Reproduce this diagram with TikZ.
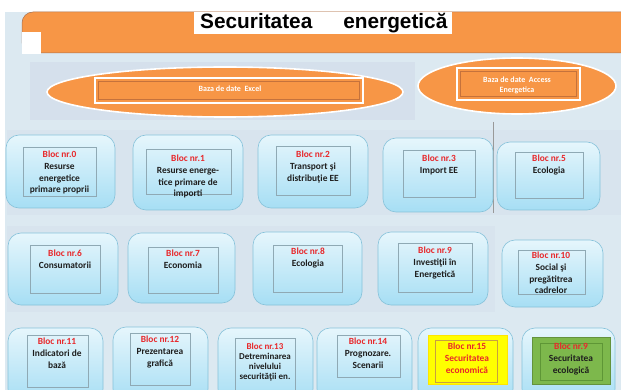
\documentclass[tikz,border=0pt]{standalone}
\usepackage{fontspec}
\setmainfont{Carlito}
\newfontfamily\titlefont{Liberation Sans}
\usetikzlibrary{shapes.geometric}
\definecolor{bgblue}{HTML}{DCE9F1}
\definecolor{bandc}{HTML}{D5E0EC}
\definecolor{orng}{HTML}{F79646}
\definecolor{orline}{HTML}{B8693A}
\definecolor{btop}{HTML}{E6F6FC}
\definecolor{bbot}{HTML}{A6DEF4}
\definecolor{bdraw}{HTML}{86C2DA}
\definecolor{idraw}{HTML}{8FA9B4}
\definecolor{blocred}{HTML}{E8282B}
\definecolor{tdark}{HTML}{1E1E1E}
\definecolor{yel}{HTML}{FFFF00}
\definecolor{yline}{HTML}{C8A040}
\definecolor{grn}{HTML}{7DB84C}
\definecolor{gline}{HTML}{5E9636}
\newcommand\bn[1]{\textcolor{blocred}{#1}\\[1pt]}
\newcommand\blk[9]{%
  \node[outerbox, minimum width={#4-#2}, minimum height={#5-#3}] (#1) at ({(#2+#4)/2},{(#3+#5)/2}) {};
  \node[innerbox, minimum width={#8-#6}, minimum height={#9-#7}] (#1i) at ({(#6+#8)/2},{(#7+#9)/2}) {};
}
\begin{document}
\begin{tikzpicture}[x=1pt,y=-1pt,
  outerbox/.style={rounded corners=13pt, draw=bdraw, line width=0.6pt, top color=btop, bottom color=bbot, inner sep=0pt},
  innerbox/.style={draw=idraw, line width=0.5pt, inner sep=0pt},
  btext/.style={font=\fontsize{9.4}{11.4}\selectfont\bfseries, align=center, inner sep=0pt, anchor=north, text=tdark},
  oval/.style={ellipse, fill=orng, draw=white, line width=1.6pt, inner sep=0pt},
  wframe/.style={draw=white, line width=2.2pt, inner sep=0pt},
  oframe/.style={draw=orline!80!orng, line width=0.5pt, inner sep=0pt},
  dbtext/.style={font=\fontsize{8}{10.5}\selectfont\bfseries, text=white, align=center, inner sep=0pt}]
\useasboundingbox (0,0) rectangle (621,390);
\clip (0,0) rectangle (621,390);
% background
\fill[white] (0,0) rectangle (621,390);
\fill[bgblue] (5,12) rectangle (621,390);
\fill[bandc] (30,62) rectangle (415,120);
\fill[bandc!60!bgblue] (7,130) rectangle (621,215);
\fill[bandc!60!bgblue] (7,226) rectangle (495,312);
% banner
\fill[orng, draw=orline!70!gray, line width=0.5pt, rounded corners=11pt] (22,12) rectangle (640,53);
\fill[white] (22,32) rectangle (41,54);
\node[fill=white, minimum width=258pt, minimum height=22pt, inner sep=0pt] (titlebox) at (323,23) {};
\node[anchor=base west, inner sep=0pt, font=\titlefont\bfseries\fontsize{20.8}{24}\selectfont] (title) at (200,28.5) {Securitatea\hspace{31pt}energetică};
% databases
\node[oval, minimum width=356pt, minimum height=50pt] (excel) at (225,92) {};
\node[wframe, minimum width=268pt, minimum height=25pt] (excelf) at (229,90.5) {};
\node[oframe, minimum width=261pt, minimum height=18pt] (excelg) at (229,90.5) {};
\node[dbtext] (exceltxt) at (230,89) {Baza de date\ \ Excel};
\node[oval, minimum width=198pt, minimum height=56pt] (access) at (517,86) {};
\node[wframe, minimum width=123pt, minimum height=32pt] (accessf) at (518.5,84) {};
\node[oframe, minimum width=116pt, minimum height=25pt] (accessg) at (518.5,84) {};
\node[dbtext] (accesstxt) at (517,85.5) {Baza de date\ \ Access\\Energetica};
% separator
\draw[gray!80, line width=0.4pt] (493,122) -- (493,213);
% row 1
\blk{b0}{6}{135}{115}{208}{23}{147}{96}{196}
\node[btext] (b0t) at (59.5,150.5) {\bn{Bloc nr.0}Resurse\\energetice\\primare proprii};
\blk{b1}{133}{135}{243}{210}{146}{149}{231}{194}
\node[btext] (b1t) at (188,154.5) {\bn{Bloc nr.1}Resurse energe-\\tice primare de\\importi};
\blk{b2}{258}{135}{368}{208}{276}{146}{350}{195}
\node[btext] (b2t) at (313,150.5) {\bn{Bloc nr.2}Transport şi\\distribuţie EE};
\blk{b3}{383}{138}{493}{212}{403}{150}{475}{197}
\node[btext] (b3t) at (439,154.5) {\bn{Bloc nr.3}Import EE};
\blk{b5}{497}{142}{600}{210}{515}{152}{583}{198}
\node[btext] (b5t) at (549,154.5) {\bn{Bloc nr.5}Ecologia};
% row 2
\blk{b6}{8}{233}{118}{305}{30}{245}{100}{293}
\node[btext] (b6t) at (65,249.5) {\bn{Bloc nr.6}Consumatorii};
\blk{b7}{128}{233}{235}{303}{148}{247}{218}{293}
\node[btext] (b7t) at (183,249.5) {\bn{Bloc nr.7}Economia};
\blk{b8}{253}{232}{362}{305}{273}{245}{342}{292}
\node[btext] (b8t) at (308,247.5) {\bn{Bloc nr.8}Ecologia};
\blk{b9}{378}{232}{488}{305}{398}{243}{472}{292}
\node[btext] (b9t) at (435,246.5) {\bn{Bloc nr.9}Investiţii în\\Energetică};
\blk{b10}{502}{240}{603}{307}{518}{250}{585}{294}
\node[btext] (b10t) at (551,251.5) {\bn{Bloc nr.10}Social şi\\pregătitrea\\cadrelor};
% row 3
\blk{b11}{8}{328}{103}{402}{27}{335}{88}{387}
\node[btext] (b11t) at (57,337.5) {\bn{Bloc nr.11}Indicatori de\\bază};
\blk{b12}{113}{327}{208}{402}{130}{333}{190}{385}
\node[btext] (b12t) at (160,335.5) {\bn{Bloc nr.12}Prezentarea\\grafică};
\blk{b13}{218}{328}{313}{402}{235}{338}{295}{390}
\node[btext, font=\fontsize{9}{9.8}\selectfont\bfseries] (b13t) at (265,342.5) {\bn{Bloc nr.13}Detreminarea\\nivelului\\securităţii en.};
\blk{b14}{317}{328}{412}{402}{337}{335}{400}{377}
\node[btext] (b14t) at (368,337.5) {\bn{Bloc nr.14}Prognozare.\\Scenarii};
\node[outerbox, minimum width=95pt, minimum height=74pt] (b15) at (465.5,365) {};
\node[fill=yel, draw=yel!80!orange, line width=0.5pt, minimum width=79pt, minimum height=49pt, inner sep=0pt] (b15i) at (467.5,359.5) {};
\node[draw=yline, line width=0.5pt, minimum width=62pt, minimum height=42pt, inner sep=0pt] (b15j) at (466,361) {};
\node[btext, text=blocred] (b15t) at (467,342.5) {\bn{Bloc nr.15}Securitatea\\economică};
\node[outerbox, minimum width=93pt, minimum height=74pt] (b16) at (568.5,365) {};
\node[fill=grn, draw=grn!80!black, line width=0.5pt, minimum width=78pt, minimum height=47pt, inner sep=0pt] (b16i) at (571,360.5) {};
\node[draw=gline, line width=0.5pt, minimum width=62pt, minimum height=37pt, inner sep=0pt] (b16j) at (571,361.5) {};
\node[btext] (b16t) at (571,342.5) {\bn{Bloc nr.9}Securitatea\\ecologică};
\end{tikzpicture}
\end{document}
